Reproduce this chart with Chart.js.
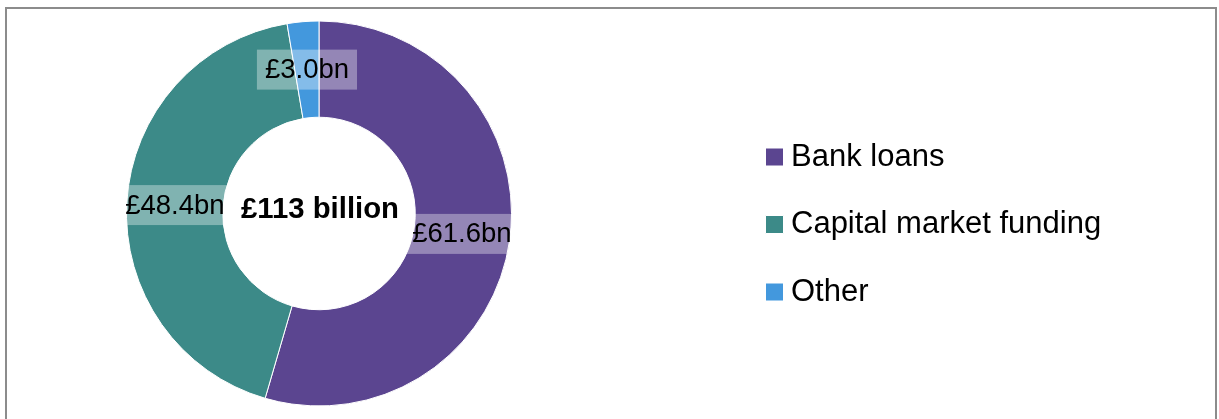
<!DOCTYPE html>
<html>
<head>
<meta charset="utf-8">
<script src="https://cdn.jsdelivr.net/npm/chart.js@4"></script>
<style>
    html, body { margin: 0; padding: 0; background: #fff; }
    #wrap { position: relative; width: 1219px; height: 419px; overflow: hidden; }
    #frame {
        position: absolute; left: 5px; top: 7px;
        width: 1208px; height: 430px;
        border: 2px solid #8c8c8c;
    }
    #chart { position: absolute; left: 0; top: 0; }
</style>
</head>
<body>
<div id="wrap">
    <div id="frame"></div>
    <canvas id="chart" width="1219" height="419"></canvas>
</div>
<script>
const categories = ['Bank loans', 'Capital market funding', 'Other'];
const amounts = [61.6, 48.4, 3.0];   // £bn
const colours = ['#5b4590', '#3c8a88', '#4398dd'];

const FONT = "'Liberation Sans', Arial, sans-serif";

// value boxes sitting on the middle of each ring segment
const sliceLabels = {
    id: 'sliceLabels',
    afterDatasetsDraw(chart) {
        const ctx = chart.ctx;
        const area = chart.chartArea;
        const meta = chart.getDatasetMeta(0);
        ctx.save();
        ctx.font = '27.5px ' + FONT;
        ctx.textAlign = 'center';
        ctx.textBaseline = 'middle';
        meta.data.forEach((arc, i) => {
            const p = arc.getCenterPoint();
            const text = '£' + amounts[i].toFixed(1) + 'bn';
            const w = ctx.measureText(text).width + 16;
            const h = 40;
            let x0 = Math.max(p.x - w / 2, area.left);
            let x1 = Math.min(p.x + w / 2, area.right);
            ctx.fillStyle = 'rgba(255,255,255,0.35)';
            ctx.fillRect(x0, p.y - h / 2, x1 - x0, h);
            ctx.fillStyle = '#000';
            ctx.fillText(text, p.x, p.y + 1);
        });
        ctx.restore();
    }
};

// total in the hole
const centreTotal = {
    id: 'centreTotal',
    afterDatasetsDraw(chart) {
        const arc = chart.getDatasetMeta(0).data[0];
        const total = amounts.reduce((a, b) => a + b, 0);
        const ctx = chart.ctx;
        ctx.save();
        ctx.font = 'bold 29.3px ' + FONT;
        ctx.fillStyle = '#000';
        ctx.textAlign = 'center';
        ctx.textBaseline = 'middle';
        ctx.fillText('£' + Math.round(total) + ' billion', arc.x + 1, arc.y - 4);
        ctx.restore();
    }
};

// legend lives to the right of the ring, outside the plot box
const legendSpot = {
    id: 'legendSpot',
    afterLayout(chart) {
        const lg = chart.legend;
        lg.left = 737;
        lg.right = lg.left + lg.width;
        lg.top = 105;
        lg.bottom = 419;
        lg.height = lg.bottom - lg.top;
    }
};

new Chart(document.getElementById('chart'), {
    type: 'doughnut',
    data: {
        labels: categories,
        datasets: [{
            data: amounts,
            backgroundColor: colours,
            borderColor: '#ffffff',
            borderWidth: 1
        }]
    },
    options: {
        responsive: false,
        animation: false,
        cutout: '50%',
        layout: { padding: { left: 126, right: 707, top: 20, bottom: 12 } },
        plugins: {
            tooltip: { enabled: false },
            legend: {
                position: 'chartArea',
                align: 'start',
                labels: {
                    usePointStyle: true,
                    pointStyle: 'rect',
                    boxWidth: 2,
                    boxHeight: 18,
                    padding: 36.5,
                    color: '#000',
                    font: { family: FONT, size: 31 }
                }
            }
        }
    },
    plugins: [sliceLabels, centreTotal, legendSpot]
});
</script>
</body>
</html>
